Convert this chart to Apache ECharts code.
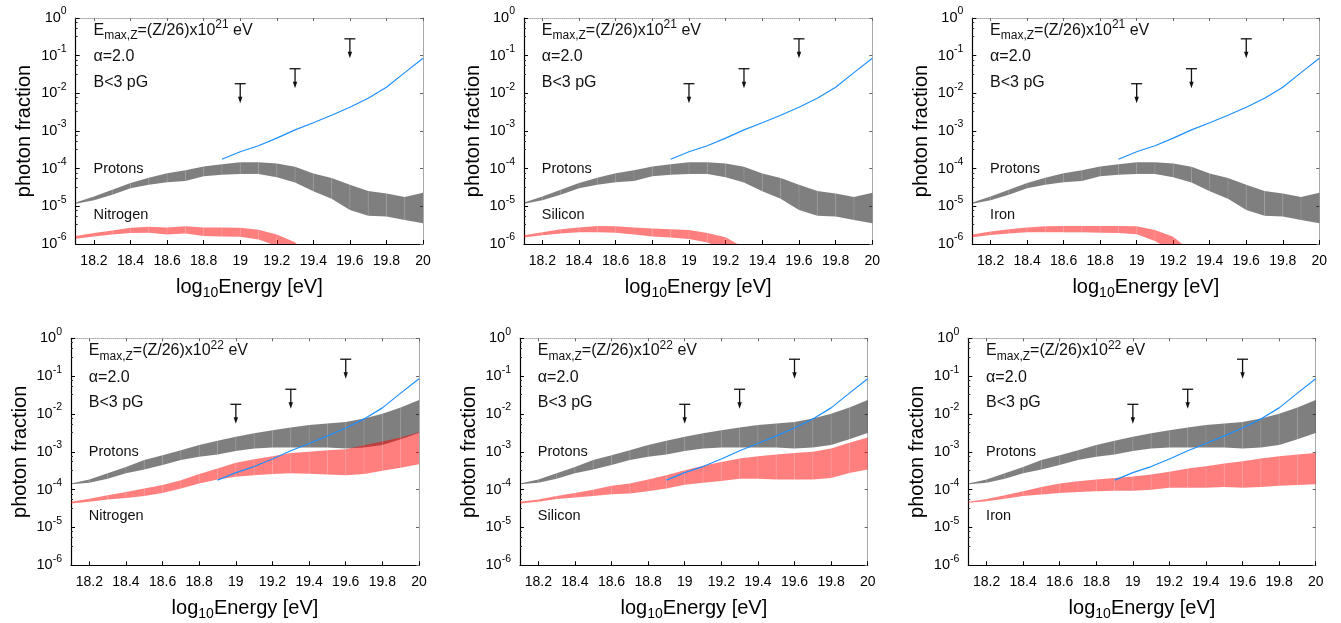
<!DOCTYPE html>
<html><head><meta charset="utf-8">
<script src="https://cdn.jsdelivr.net/npm/echarts@6/dist/echarts.min.js"></script>
<style>html,body{margin:0;padding:0;background:#fff}#c{width:1341px;height:623px}</style>
</head><body><div id="c"></div>
<script>
// ---------- data ----------
const energy = [18.1,18.2,18.3,18.4,18.5,18.6,18.7,18.8,18.9,19.0,19.1,19.2,19.3,19.4,19.5,19.6,19.7,19.8,19.9,20.0];
const xTickValues = [18.2,18.4,18.6,18.8,19.0,19.2,19.4,19.6,19.8,20.0];
const nuclei = ['Nitrogen','Silicon','Iron'];
const emaxExponent = ['21','22'];
const alphaText = 'α=2.0';
const fieldText = 'B<3 pG';

const limitEnergy = [19.0, 19.3, 19.6];
const limitValue = [0.018, 0.045, 0.28];

const lineEnergy = [18.9,19.0,19.1,19.2,19.3,19.4,19.5,19.6,19.7,19.8,19.9,20.0];
const lineValue = [1.78e-4,2.82e-4,4.07e-4,6.46e-4,1.07e-3,1.66e-3,2.63e-3,4.27e-3,7.41e-3,1.45e-2,3.55e-2,8.51e-2];

// top row: Emax = (Z/26) x 10^21 eV
const protonsTopUpper = [1.26e-5,1.82e-5,2.75e-5,4.17e-5,5.75e-5,7.59e-5,9.12e-5,1.15e-4,1.32e-4,1.48e-4,1.48e-4,1.38e-4,1.12e-4,7.41e-5,5.62e-5,3.72e-5,2.57e-5,2.19e-5,1.78e-5,2.29e-5];
const protonsTopLower = [1.17e-5,1.45e-5,2.04e-5,3.02e-5,3.72e-5,4.37e-5,4.68e-5,6.31e-5,6.92e-5,7.24e-5,7.24e-5,5.89e-5,4.27e-5,2.51e-5,1.58e-5,7.94e-6,5.62e-6,5.37e-6,4.37e-6,3.55e-6];
const nitrogenTopUpper = [1.62e-6,1.95e-6,2.29e-6,2.69e-6,2.88e-6,2.75e-6,2.95e-6,2.75e-6,2.75e-6,2.69e-6,2.40e-6,1.78e-6,1.12e-6,3.98e-7];
const nitrogenTopLower = [1.38e-6,1.58e-6,1.78e-6,1.95e-6,2.00e-6,1.78e-6,1.91e-6,1.62e-6,1.58e-6,1.55e-6,1.32e-6,8.91e-7,4.47e-7,2.00e-7];
const siliconTopUpper = [1.70e-6,2.04e-6,2.45e-6,2.75e-6,3.02e-6,2.95e-6,2.75e-6,2.57e-6,2.45e-6,2.34e-6,1.95e-6,1.51e-6,7.94e-7,3.16e-7];
const siliconTopLower = [1.48e-6,1.70e-6,1.91e-6,2.04e-6,2.04e-6,2.00e-6,1.78e-6,1.58e-6,1.48e-6,1.35e-6,1.10e-6,7.08e-7,3.98e-7,2.00e-7];
const ironTopUpper = [1.78e-6,2.14e-6,2.45e-6,2.75e-6,2.95e-6,3.02e-6,3.02e-6,3.02e-6,3.02e-6,2.95e-6,2.34e-6,1.55e-6,6.31e-7];
const ironTopLower = [1.51e-6,1.74e-6,1.91e-6,2.04e-6,2.04e-6,2.04e-6,2.04e-6,2.00e-6,1.95e-6,1.82e-6,1.20e-6,6.31e-7,3.16e-7];

// bottom row: Emax = (Z/26) x 10^22 eV
const protonsBottomUpper = [1.45e-4,1.86e-4,2.69e-4,3.98e-4,6.03e-4,8.13e-4,1.10e-3,1.51e-3,1.95e-3,2.51e-3,3.09e-3,3.72e-3,4.37e-3,5.13e-3,5.62e-3,6.17e-3,7.59e-3,1.02e-2,1.48e-2,2.34e-2];
const protonsBottomLower = [1.38e-4,1.51e-4,1.95e-4,2.69e-4,3.39e-4,4.47e-4,6.03e-4,7.41e-4,8.51e-4,1.05e-3,1.23e-3,1.29e-3,1.29e-3,1.29e-3,1.29e-3,1.23e-3,1.29e-3,1.51e-3,2.14e-3,3.16e-3];
const nitrogenBottomUpper = [4.79e-5,5.75e-5,7.08e-5,8.71e-5,1.07e-4,1.32e-4,1.78e-4,2.57e-4,3.63e-4,5.13e-4,6.31e-4,7.59e-4,9.33e-4,1.00e-3,1.10e-3,1.17e-3,1.48e-3,1.86e-3,2.40e-3,3.31e-3];
const nitrogenBottomLower = [4.27e-5,4.79e-5,5.50e-5,6.03e-5,6.76e-5,8.13e-5,1.07e-4,1.45e-4,1.86e-4,2.19e-4,2.40e-4,2.57e-4,2.69e-4,2.63e-4,2.51e-4,2.40e-4,2.57e-4,3.16e-4,3.80e-4,4.68e-4];
const siliconBottomUpper = [4.79e-5,5.50e-5,6.76e-5,8.13e-5,1.00e-4,1.26e-4,1.45e-4,1.86e-4,2.40e-4,3.24e-4,4.27e-4,5.37e-4,6.61e-4,7.59e-4,8.51e-4,9.33e-4,1.00e-3,1.23e-3,1.74e-3,2.40e-3];
const siliconBottomLower = [4.27e-5,4.79e-5,5.62e-5,6.17e-5,6.76e-5,7.59e-5,7.94e-5,9.12e-5,1.07e-4,1.35e-4,1.51e-4,1.70e-4,1.95e-4,1.95e-4,1.86e-4,1.86e-4,1.86e-4,2.04e-4,2.75e-4,3.39e-4];
const ironBottomUpper = [4.79e-5,5.62e-5,7.08e-5,9.12e-5,1.17e-4,1.45e-4,1.66e-4,1.86e-4,2.04e-4,2.24e-4,2.51e-4,2.95e-4,3.63e-4,4.17e-4,4.90e-4,5.62e-4,6.61e-4,7.59e-4,8.51e-4,9.33e-4];
const ironBottomLower = [4.47e-5,4.90e-5,5.75e-5,6.76e-5,7.41e-5,8.13e-5,8.71e-5,9.12e-5,9.33e-5,9.33e-5,1.00e-4,1.12e-4,1.12e-4,1.12e-4,1.17e-4,1.12e-4,1.17e-4,1.26e-4,1.32e-4,1.38e-4];

// ---------- layout ----------
const FONT = 'Liberation Sans, Arial, Helvetica, sans-serif';
const rowTop = [18, 338.3];
const rowHeight = [226, 227];
const colLeft = [[75.7, 524, 972.3], [71, 520, 968.3]];
const colWidth = [[347.3, 348.3, 347], [348, 347.7, 347.4]];

const panels = [
  {row:0,col:0,nuc:nuclei[0],pU:protonsTopUpper,pL:protonsTopLower,nU:nitrogenTopUpper,nL:nitrogenTopLower},
  {row:0,col:1,nuc:nuclei[1],pU:protonsTopUpper,pL:protonsTopLower,nU:siliconTopUpper,nL:siliconTopLower},
  {row:0,col:2,nuc:nuclei[2],pU:protonsTopUpper,pL:protonsTopLower,nU:ironTopUpper,nL:ironTopLower},
  {row:1,col:0,nuc:nuclei[0],pU:protonsBottomUpper,pL:protonsBottomLower,nU:nitrogenBottomUpper,nL:nitrogenBottomLower},
  {row:1,col:1,nuc:nuclei[1],pU:protonsBottomUpper,pL:protonsBottomLower,nU:siliconBottomUpper,nL:siliconBottomLower},
  {row:1,col:2,nuc:nuclei[2],pU:protonsBottomUpper,pL:protonsBottomLower,nU:ironBottomUpper,nL:ironBottomLower}
];

function bandRender(xs, lo, hi, fill) {
  return function (params, api) {
    const i = params.dataIndex;
    if (i >= xs.length - 1) return null;
    const a = api.coord([xs[i], hi[i]]);
    const b = api.coord([xs[i + 1], hi[i + 1]]);
    const c = api.coord([xs[i + 1], lo[i + 1]]);
    const d = api.coord([xs[i], lo[i]]);
    const children = [{type: 'polygon', shape: {points: [a, b, c, d]}, style: {fill: fill}}];
    if (i > 0) children.push({type: 'line', shape: {x1: a[0], y1: a[1], x2: d[0], y2: d[1]},
      style: {stroke: 'rgba(255,255,255,0.16)', lineWidth: 0.8}});
    return {type: 'group', children: children};
  };
}

function limitRender(params, api) {
  const p = api.coord([api.value(0), api.value(1)]);
  const col = '#111';
  return {type: 'group', children: [
    {type: 'line', shape: {x1: p[0] - 5.5, y1: p[1], x2: p[0] + 5.5, y2: p[1]}, style: {stroke: col, lineWidth: 1.3}},
    {type: 'line', shape: {x1: p[0], y1: p[1], x2: p[0], y2: p[1] + 15}, style: {stroke: col, lineWidth: 1.3}},
    {type: 'polygon', shape: {points: [[p[0] - 2.2, p[1] + 13], [p[0] + 2.2, p[1] + 13], [p[0], p[1] + 19.5]]}, style: {fill: col}}
  ]};
}

const grids = [], xAxes = [], yAxes = [], series = [], graphics = [];
panels.forEach(function (pn, g) {
  const left = colLeft[pn.row][pn.col], top = rowTop[pn.row];
  const width = colWidth[pn.row][pn.col], height = rowHeight[pn.row];
  grids.push({left: left, top: top, width: width, height: height, containLabel: false});
  xAxes.push({
    type: 'value', gridIndex: g, min: 18.1, max: 20, position: 'bottom',
    axisLine: {show: true, onZero: false, lineStyle: {color: '#000', width: 1.2}},
    axisTick: {show: true, inside: true, length: 4, customValues: xTickValues, lineStyle: {color: '#000'}},
    axisLabel: {customValues: xTickValues, fontSize: 14, color: '#000', fontFamily: FONT, margin: 10,
      formatter: function (v) { return String(+(+v).toFixed(1)); }},
    splitLine: {show: false},
    name: '{a|log}{b|10}{a|Energy [eV]}', nameLocation: 'middle', nameGap: 30,
    nameTextStyle: {color: '#000', fontFamily: FONT, rich: {
      a: {fontSize: 20, fontFamily: FONT, color: '#000'},
      b: {fontSize: 14, fontFamily: FONT, color: '#000', padding: [12, 0, 0, 0]}}}
  });
  xAxes.push({
    type: 'value', gridIndex: g, min: 18.1, max: 20, position: 'top',
    axisLine: {show: true, onZero: false, lineStyle: {color: '#aaa', width: 1, type: 'dotted'}},
    axisTick: {show: true, inside: true, length: 3, customValues: xTickValues, lineStyle: {color: '#666'}},
    axisLabel: {show: false}, splitLine: {show: false}
  });
  yAxes.push({
    type: 'log', logBase: 10, gridIndex: g, min: 1e-6, max: 1, position: 'left',
    axisLine: {show: true, onZero: false, lineStyle: {color: '#000', width: 1.2}},
    axisTick: {show: true, inside: true, length: 4, lineStyle: {color: '#000'}},
    minorTick: {show: true, splitNumber: 4, length: 2, lineStyle: {color: '#333'}},
    splitLine: {show: false},
    axisLabel: {margin: 9, fontFamily: FONT, color: '#000',
      formatter: function (v) { return '{b|10}{s|' + Math.round(Math.log10(v)) + '}'; },
      rich: {b: {fontSize: 14.5, fontFamily: FONT, color: '#000'},
             s: {fontSize: 10.5, fontFamily: FONT, color: '#000', padding: [0, 0, 13, 0]}}},
    name: 'photon fraction', nameLocation: 'middle', nameGap: 41, nameRotate: 90,
    nameTextStyle: {fontSize: 20, fontFamily: FONT, color: '#000'}
  });
  yAxes.push({
    type: 'log', logBase: 10, gridIndex: g, min: 1e-6, max: 1, position: 'right',
    axisLine: {show: true, onZero: false, lineStyle: {color: '#aaa', width: 1}},
    axisTick: {show: true, inside: true, length: 3, lineStyle: {color: '#666'}},
    axisLabel: {show: false}, splitLine: {show: false}
  });
  const xi = 2 * g, yi = 2 * g;
  const nx = energy.slice(0, pn.nU.length);
  series.push({type: 'custom', xAxisIndex: xi, yAxisIndex: yi, clip: true, silent: true, z: 2,
    renderItem: bandRender(energy, pn.pL, pn.pU, 'rgba(0,0,0,0.5)'),
    data: energy.map(function (x, i) { return [x, pn.pL[i], pn.pU[i]]; })});
  series.push({type: 'custom', xAxisIndex: xi, yAxisIndex: yi, clip: true, silent: true, z: 3,
    renderItem: bandRender(nx, pn.nL, pn.nU, 'rgba(255,0,0,0.5)'),
    data: nx.map(function (x, i) { return [x, pn.nL[i], pn.nU[i]]; })});
  series.push({type: 'line', xAxisIndex: xi, yAxisIndex: yi, showSymbol: false, silent: true, z: 4,
    lineStyle: {color: '#1e8fff', width: 1.2}, clip: true, animation: false,
    data: lineEnergy.map(function (x, i) { return [x, lineValue[i]]; })});
  series.push({type: 'custom', xAxisIndex: xi, yAxisIndex: yi, silent: true, z: 5,
    renderItem: limitRender,
    data: limitEnergy.map(function (x, i) { return [x, limitValue[i]]; })});

  const tx = left + 17.8;
  graphics.push({type: 'text', x: tx, y: top + 12.5, style: {
    text: '{m|E}{sub|max,Z}{m|=(Z/26)x10}{sup|' + emaxExponent[pn.row] + '}{m| eV}',
    verticalAlign: 'middle', rich: {
      m: {fontSize: 16, fontFamily: FONT, fill: '#111'},
      sub: {fontSize: 12, fontFamily: FONT, fill: '#111', padding: [11, 0, 0, 0]},
      sup: {fontSize: 12, fontFamily: FONT, fill: '#111', padding: [0, 0, 11, 0]}}}});
  graphics.push({type: 'text', x: tx, y: top + 39, style: {text: alphaText, fontSize: 16, fontFamily: FONT, fill: '#111', verticalAlign: 'middle'}});
  graphics.push({type: 'text', x: tx, y: top + 64.5, style: {text: fieldText, fontSize: 16, fontFamily: FONT, fill: '#111', verticalAlign: 'middle'}});
  const pY = pn.row === 0 ? 151 : 113.5;
  const nY = pn.row === 0 ? 197 : 178;
  graphics.push({type: 'text', x: tx, y: top + pY, style: {text: 'Protons', fontSize: 14.5, fontFamily: FONT, fill: '#111', verticalAlign: 'middle'}});
  graphics.push({type: 'text', x: tx, y: top + nY, style: {text: pn.nuc, fontSize: 14.5, fontFamily: FONT, fill: '#111', verticalAlign: 'middle'}});
});

const chart = echarts.init(document.getElementById('c'), null, {renderer: 'canvas'});
chart.setOption({
  animation: false,
  backgroundColor: '#fff',
  grid: grids, xAxis: xAxes, yAxis: yAxes, series: series, graphic: graphics
});
</script>
</body></html>
